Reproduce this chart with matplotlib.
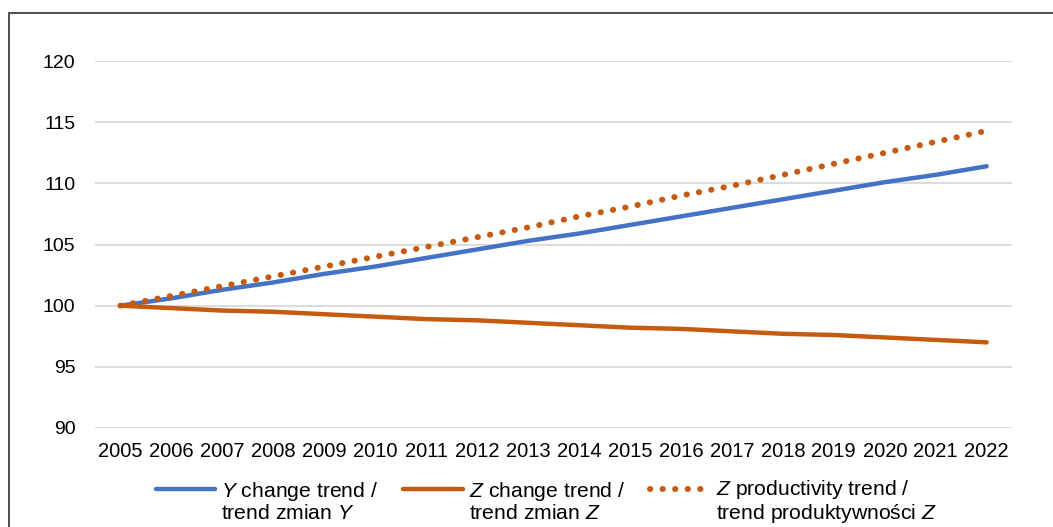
import matplotlib.pyplot as plt
from matplotlib.patches import Rectangle
from matplotlib.legend_handler import HandlerLine2D

plt.rcParams['font.family'] = ['Liberation Sans', 'DejaVu Sans']
plt.rcParams['mathtext.fontset'] = 'custom'
plt.rcParams['mathtext.rm'] = 'Liberation Sans'
plt.rcParams['mathtext.it'] = 'Liberation Sans:italic'

# Data
years = [str(y) for y in range(2005, 2023)]
y_change = [100.0, 100.6, 101.3, 101.9, 102.6, 103.2, 103.9, 104.6, 105.3,
            105.9, 106.6, 107.3, 108.0, 108.7, 109.4, 110.1, 110.7, 111.4]
z_change = [100.0, 99.8, 99.6, 99.5, 99.3, 99.1, 98.9, 98.8, 98.6,
            98.4, 98.2, 98.1, 97.9, 97.7, 97.6, 97.4, 97.2, 97.0]
z_prod = [100.0, 100.8, 101.6, 102.4, 103.2, 104.0, 104.8, 105.6, 106.4,
          107.3, 108.1, 109.0, 109.8, 110.7, 111.6, 112.5, 113.4, 114.3]
labels = ['$\\it{Y}$ change trend /\ntrend zmian $\\it{Y}$',
          '$\\it{Z}$ change trend /\ntrend zmian $\\it{Z}$',
          '$\\it{Z}$ productivity trend /\ntrend produktywności $\\it{Z}$']

blue = '#4472C4'
orange = '#C55A11'
fs = 14.5
leg_fs = 15.2


# legend handle sits next to the first text line, not in the middle
class TopLine(HandlerLine2D):
    def create_artists(self, legend, orig_handle, xdescent, ydescent,
                       width, height, fontsize, trans):
        arts = super().create_artists(legend, orig_handle, xdescent, ydescent,
                                      width, height, fontsize, trans)
        for a in arts:
            a.set_ydata([y + 0.6 * fontsize for y in a.get_ydata()])
        return arts


fig = plt.figure(figsize=(10.53, 5.27), dpi=100)
ax = fig.add_axes([0.0902, 0.188, 0.871, 0.696])

x = range(len(years))
ax.plot(x, y_change, color=blue, lw=3.2, solid_capstyle='round', label=labels[0], zorder=3)
ax.plot(x, z_change, color=orange, lw=3.2, solid_capstyle='round', label=labels[1], zorder=3)
ax.plot(x, z_prod, color=orange, lw=4.3, linestyle=(0, (0.05, 2.05)),
        dash_capstyle='round', label=labels[2], zorder=4)

ax.set_xlim(-0.5, len(years) - 0.5)
ax.set_ylim(90, 120)
ax.set_yticks(range(90, 121, 5))
ax.set_xticks(list(x))
ax.set_xticklabels(years)
ax.tick_params(length=0, colors='black')
ax.tick_params(axis='x', labelsize=fs, pad=10)
ax.tick_params(axis='y', labelsize=14, pad=14)
ax.grid(axis='y', color='#D9D9D9', lw=1.3)
ax.set_axisbelow(True)
for s in ax.spines.values():
    s.set_visible(False)

leg = ax.legend(loc='upper center', bbox_to_anchor=(0.492, -0.084), ncol=3, frameon=False,
                fontsize=leg_fs, handlelength=2.8, handletextpad=0.3, columnspacing=1.2,
                labelspacing=0.1, handler_map={plt.Line2D: TopLine()})
for t in leg.get_texts():
    t.set_linespacing(1.05)

# outer frame (top and left edges visible)
fig.patches.append(Rectangle((9 / 1053, -0.2), 1.2, 1 - 13 / 527 + 0.2,
                             transform=fig.transFigure, fill=False,
                             edgecolor='#404040', lw=1.3))

fig.savefig('out.png', dpi=100)
